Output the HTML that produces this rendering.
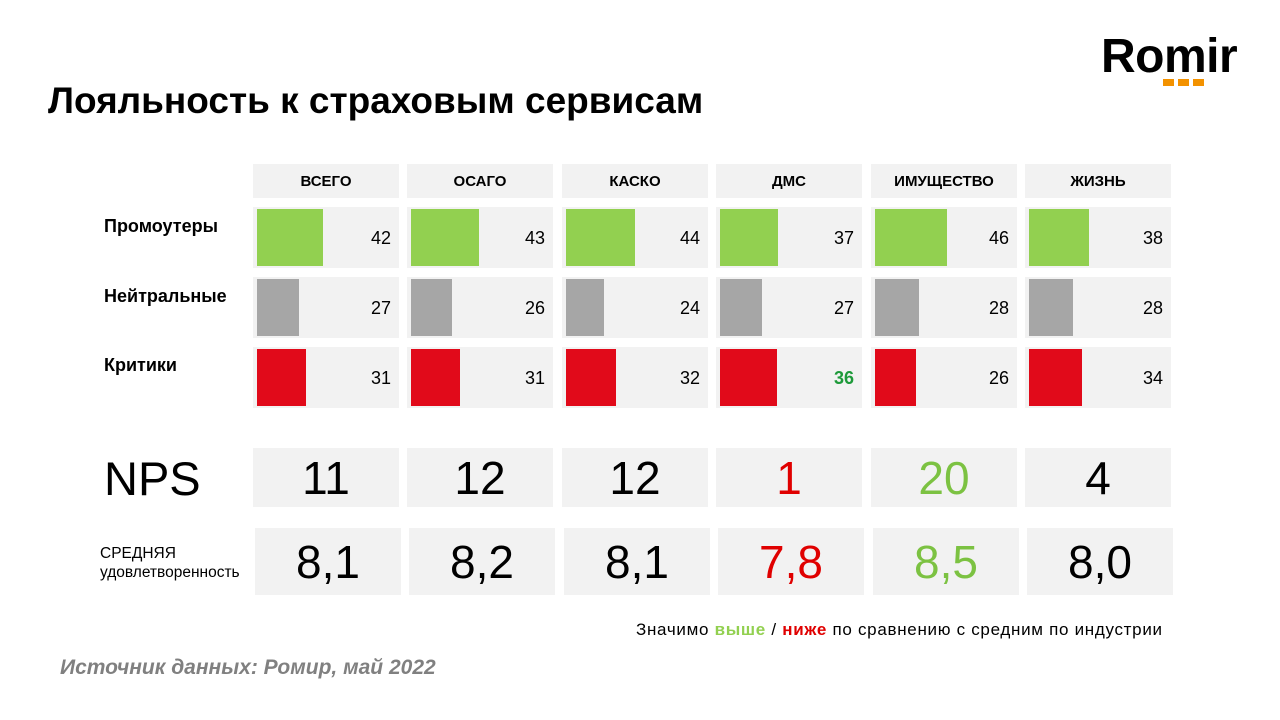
<!DOCTYPE html><html><head><meta charset="utf-8"><style>
body{margin:0;width:1280px;height:720px;background:#fff;position:relative;overflow:hidden;font-family:"Liberation Sans",sans-serif;color:#000}
div{position:absolute;box-sizing:border-box}
.c{background:#f2f2f2}
.h{font-weight:bold;font-size:15px;display:flex;align-items:center;justify-content:center}
.v{font-size:18px;right:8px;text-align:right}
.big{font-size:46px;display:flex;align-items:center;justify-content:center}
.lab{font-weight:bold;font-size:18px;left:104px}
.sq{width:11px;height:7px;background:#f39200;top:79px}
</style></head><body>
<div style="left:1101px;top:29px;font-size:48px;font-weight:bold;letter-spacing:-0.5px">Romir</div>
<div class="sq" style="left:1163px"></div><div class="sq" style="left:1178px"></div><div class="sq" style="left:1193px"></div>
<div style="left:48px;top:80px;font-size:37px;font-weight:bold">Лояльность к страховым сервисам</div>
<div class="lab" style="top:216px">Промоутеры</div>
<div class="lab" style="top:286px">Нейтральные</div>
<div class="lab" style="top:355px">Критики</div>
<div style="left:104px;top:451px;font-size:47px">NPS</div>
<div style="left:100px;top:544px;font-size:15.5px;line-height:19px">СРЕДНЯЯ<br>удовлетворенность</div>
<div id="g"></div>
<div style="left:636px;top:620px;font-size:17px;letter-spacing:0.7px;white-space:nowrap">Значимо <b style="color:#92d050">выше</b> / <b style="color:#e00000">ниже</b> по сравнению с средним по индустрии</div>
<div style="left:60px;top:656px;font-size:21px;font-weight:bold;font-style:italic;color:#808080">Источник данных: Ромир, май 2022</div>
<script>
var names=["ВСЕГО","ОСАГО","КАСКО","ДМС","ИМУЩЕСТВО","ЖИЗНЬ"],xs=[253,407,562,716,871,1025];
var d=[[42,27,31],[43,26,31],[44,24,32],[37,27,36],[46,28,26],[38,28,34]];
var nps=["11","12","12","1","20","4"],sat=["8,1","8,2","8,1","7,8","8,5","8,0"];
var nc=["#000","#000","#000","#e00000","#7cc242","#000"];
var cols=["#92d050","#a6a6a6","#e10a1a"],ry=[207,277,347],h="";
for(var i=0;i<6;i++){var x=xs[i];
h+='<div class="c h" style="left:'+x+'px;top:164px;width:146px;height:34px">'+names[i]+'</div>';
for(var r=0;r<3;r++){var v=d[i][r];
h+='<div class="c" style="left:'+x+'px;top:'+ry[r]+'px;width:146px;height:61px"><div style="left:4px;top:2px;height:57px;width:'+Math.round(v*1.57)+'px;background:'+cols[r]+'"></div><div class="v" style="top:21px;'+(i==3&&r==2?'color:#1e9a3a;font-weight:bold':'')+'">'+v+'</div></div>';}
h+='<div class="c big" style="left:'+x+'px;top:448px;width:146px;height:59px;color:'+nc[i]+'">'+nps[i]+'</div>';
h+='<div class="c big" style="left:'+(x+2)+'px;top:528px;width:146px;height:67px;color:'+nc[i]+'">'+sat[i]+'</div>';}
document.getElementById('g').outerHTML=h;
</script>
</body></html>
